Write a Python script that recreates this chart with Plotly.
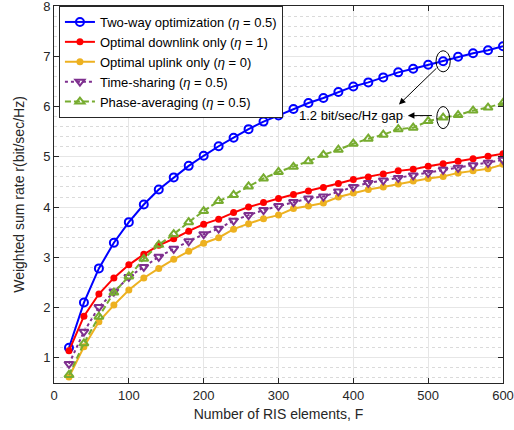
import plotly.graph_objects as go

F = list(range(20, 601, 20))

two_way = [1.20, 2.10, 2.78, 3.29, 3.70, 4.05, 4.35, 4.59, 4.82, 5.02, 5.21, 5.38, 5.55, 5.70, 5.82,
           5.95, 6.07, 6.17, 6.29, 6.40, 6.48, 6.58, 6.68, 6.75, 6.83, 6.90, 6.99, 7.06, 7.12, 7.20]
downlink = [1.14, 1.83, 2.27, 2.59, 2.85, 3.06, 3.24, 3.37, 3.52, 3.66, 3.76, 3.89, 4.00, 4.09, 4.17,
            4.25, 4.32, 4.39, 4.47, 4.55, 4.60, 4.66, 4.72, 4.75, 4.81, 4.86, 4.91, 4.96, 5.01, 5.06]
uplink = [0.62, 1.22, 1.72, 2.05, 2.35, 2.59, 2.78, 2.96, 3.12, 3.28, 3.39, 3.56, 3.67, 3.77, 3.84,
          3.97, 4.02, 4.08, 4.20, 4.28, 4.35, 4.40, 4.46, 4.52, 4.57, 4.61, 4.68, 4.72, 4.76, 4.85]
time_sharing = [0.88, 1.52, 2.01, 2.32, 2.61, 2.81, 3.01, 3.17, 3.32, 3.46, 3.57, 3.73, 3.84, 3.94, 4.02,
                4.10, 4.17, 4.21, 4.31, 4.40, 4.48, 4.53, 4.58, 4.63, 4.68, 4.74, 4.78, 4.83, 4.88, 4.94]
phase_avg = [0.66, 1.29, 1.82, 2.30, 2.62, 2.97, 3.25, 3.46, 3.70, 3.92, 4.12, 4.24, 4.41, 4.57, 4.70,
             4.80, 4.91, 5.04, 5.14, 5.26, 5.36, 5.44, 5.55, 5.58, 5.71, 5.78, 5.83, 5.92, 5.98, 6.07]

names = ["Two-way optimization (<i>η</i> = 0.5)",
         "Optimal downlink only (<i>η</i> = 1)",
         "Optimal uplink only (<i>η</i> = 0)",
         "Time-sharing (<i>η</i> = 0.5)",
         "Phase-averaging (<i>η</i> = 0.5)"]

x_ticks = [0, 100, 200, 300, 400, 500, 600]
y_ticks = [1, 2, 3, 4, 5, 6, 7, 8]

gap_text = "1.2 bit/sec/Hz gap"
gap_x = 520

FONT = "Liberation Sans, Arial, sans-serif"

fig = go.Figure()
fig.add_trace(go.Scatter(x=F, y=two_way, name=names[0], mode="lines+markers",
                         line=dict(color="#0000FF", width=2),
                         marker=dict(symbol="circle-open", size=8, color="#0000FF", line=dict(width=2))))
fig.add_trace(go.Scatter(x=F, y=downlink, name=names[1], mode="lines+markers",
                         line=dict(color="#FF0000", width=2),
                         marker=dict(symbol="circle", size=7, color="#FF0000")))
fig.add_trace(go.Scatter(x=F, y=uplink, name=names[2], mode="lines+markers",
                         line=dict(color="#EDB120", width=2),
                         marker=dict(symbol="circle", size=7, color="#EDB120")))
fig.add_trace(go.Scatter(x=F, y=time_sharing, name=names[3], mode="lines+markers",
                         line=dict(color="#7E2F8E", width=2, dash="3px,3px"),
                         marker=dict(symbol="triangle-down-open", size=8, color="#7E2F8E", line=dict(width=2))))
fig.add_trace(go.Scatter(x=F, y=phase_avg, name=names[4], mode="lines+markers",
                         line=dict(color="#77AC30", width=2, dash="6px,3px"),
                         marker=dict(symbol="triangle-up-open", size=8, color="#77AC30", line=dict(width=2))))

i520 = F.index(gap_x)
yb = two_way[i520]
yg = phase_avg[i520]

# ellipses
fig.add_shape(type="circle", xref="x", yref="y", x0=gap_x - 9.5, x1=gap_x + 9.5,
              y0=yb - 0.21, y1=yb + 0.21, line=dict(color="black", width=1))
fig.add_shape(type="circle", xref="x", yref="y", x0=gap_x - 8.5, x1=gap_x + 8.5,
              y0=yg - 0.22, y1=yg + 0.22, line=dict(color="black", width=1))

# arrows
fig.add_annotation(x=461, y=6.04, ax=513, ay=6.79, xref="x", yref="y", axref="x", ayref="y",
                   text="", showarrow=True, arrowhead=2, arrowsize=1.3, arrowwidth=1, arrowcolor="black")
fig.add_annotation(x=473, y=5.82, ax=507, ay=5.82, xref="x", yref="y", axref="x", ayref="y",
                   text="", showarrow=True, arrowhead=2, arrowsize=1.3, arrowwidth=1, arrowcolor="black")
fig.add_annotation(x=397, y=5.82, xref="x", yref="y", text=gap_text, showarrow=False,
                   font=dict(family=FONT, size=13, color="black"))

axis_common = dict(showline=True, linecolor="#262626", linewidth=1, mirror="ticks",
                   ticks="inside", ticklen=5, tickcolor="#262626",
                   showgrid=True, gridcolor="#E6E6E6", gridwidth=1, zeroline=False,
                   ticklabeloverflow="allow",
                   tickfont=dict(family=FONT, size=13, color="#262626"))

fig.update_xaxes(range=[0, 600], tickvals=x_ticks, automargin=False,
                 title=dict(text="Number of RIS elements, F", font=dict(family=FONT, size=14, color="#262626"),
                            standoff=7),
                 **axis_common)
fig.update_yaxes(range=[0.5, 8], tickvals=y_ticks, automargin=False,
                 title=dict(text="Weighted sum rate r(bit/sec/Hz)", font=dict(family=FONT, size=14, color="#262626"),
                            standoff=15),
                 minor=dict(dtick=0.2, tick0=0, showgrid=True, gridcolor="#DADADA", griddash="dot", ticks=""),
                 **axis_common)

fig.update_layout(
    width=514, height=430,
    margin=dict(l=54, r=11, t=6, b=47),
    plot_bgcolor="white", paper_bgcolor="white",
    font=dict(family=FONT, size=13, color="#262626"),
    legend=dict(x=0.011, y=1.0, xanchor="left", yanchor="top",
                bgcolor="white", bordercolor="#262626", borderwidth=1,
                font=dict(family=FONT, size=13, color="black"),
                tracegroupgap=0, itemwidth=30),
    showlegend=True,
)

fig.write_html("out.html", config={"displayModeBar": False},
               post_script="document.body.style.margin='0';document.body.style.overflow='hidden';")
